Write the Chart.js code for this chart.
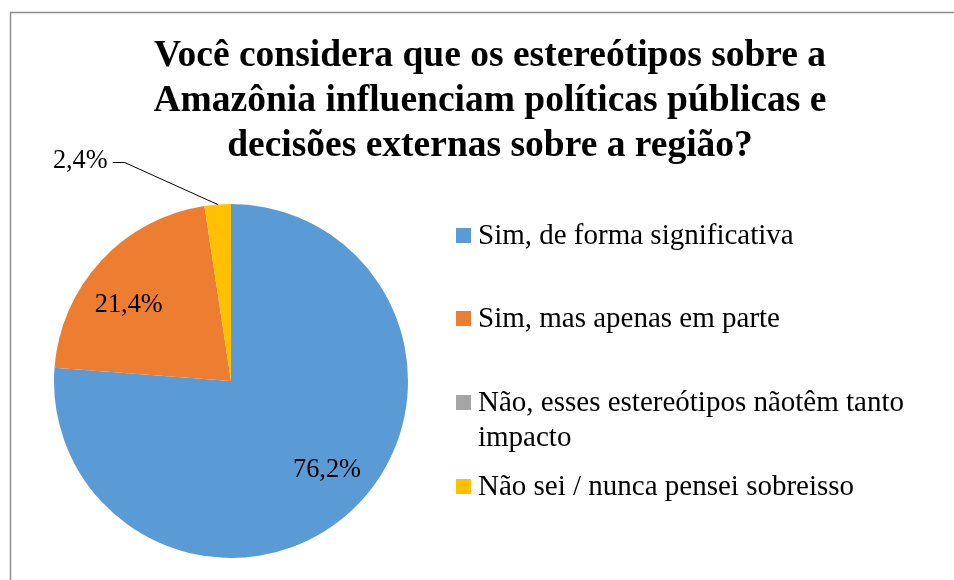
<!DOCTYPE html>
<html>
<head>
<meta charset="utf-8">
<script src="https://cdn.jsdelivr.net/npm/chart.js@4.4.1/dist/chart.umd.min.js"></script>
<style>
  html, body { margin: 0; padding: 0; background: #fff; }
  #wrap { width: 954px; height: 580px; position: relative; }
</style>
</head>
<body>
<div id="wrap"><canvas id="pieChart" width="954" height="580"></canvas></div>
<script>
// Dados do gráfico
const categories = [
    'Sim, de forma significativa',
    'Sim, mas apenas em parte',
    'Não, esses estereótipos nãotêm tanto impacto',
    'Não sei / nunca pensei sobreisso'
];
const percentages = [76.2, 21.4, 0, 2.4];
const sliceColors = ['#5B9BD5', '#ED7D31', '#A5A5A5', '#FFC000'];
const titleLines = [
    'Você considera que os estereótipos sobre a',
    'Amazônia influenciam políticas públicas e',
    'decisões externas sobre a região?'
];
// quebra de linha da legenda como no original
const legendLines = [
    ['Sim, de forma significativa'],
    ['Sim, mas apenas em parte'],
    ['Não, esses estereótipos nãotêm tanto', 'impacto'],
    ['Não sei / nunca pensei sobreisso']
];

const serif = '"Liberation Serif", "Times New Roman", serif';

function fmt(v) {
    return v.toFixed(1).replace('.', ',') + '%';
}

// moldura, título, rótulos e legenda
const decorPlugin = {
    id: 'decor',
    beforeDraw(chart) {
        const ctx = chart.ctx;
        ctx.save();
        ctx.fillStyle = '#fff';
        ctx.fillRect(0, 0, chart.width, chart.height);
        ctx.strokeStyle = '#8c8c8c';
        ctx.lineWidth = 1.5;
        ctx.beginPath();
        ctx.moveTo(10.5, chart.height);
        ctx.lineTo(10.5, 12.5);
        ctx.lineTo(chart.width, 12.5);
        ctx.stroke();
        ctx.restore();
    },
    afterDraw(chart) {
        const ctx = chart.ctx;
        ctx.save();

        // título
        ctx.fillStyle = '#000';
        ctx.font = 'bold 37.5px ' + serif;
        ctx.textAlign = 'center';
        ctx.textBaseline = 'middle';
        titleLines.forEach((t, i) => ctx.fillText(t, 490, 56 + i * 45));

        // rótulos dos valores
        const meta = chart.getDatasetMeta(0);
        ctx.font = '26.3px ' + serif;
        meta.data.forEach((arc, i) => {
            const v = percentages[i];
            if (!v) return;
            const mid = (arc.startAngle + arc.endAngle) / 2;
            if (v < 5) {
                // rótulo externo com linha de chamada
                const ex = arc.x + Math.cos(mid) * arc.outerRadius;
                const ey = arc.y + Math.sin(mid) * arc.outerRadius;
                const kx = ex - 93, ky = ey - 42;
                ctx.strokeStyle = '#000';
                ctx.lineWidth = 1;
                ctx.beginPath();
                ctx.moveTo(ex, ey);
                ctx.lineTo(kx, ky);
                ctx.lineTo(kx - 12, ky);
                ctx.stroke();
                ctx.textAlign = 'right';
                ctx.fillText(fmt(v), kx - 17, ky - 1);
            } else {
                const r = arc.outerRadius * 0.73;
                const a = mid - 0.09;
                ctx.textAlign = 'center';
                ctx.fillText(fmt(v), arc.x + Math.cos(a) * r, arc.y + Math.sin(a) * r + 3);
            }
        });

        // legenda
        const rowY = [236, 319, 403, 487];
        ctx.font = '29px ' + serif;
        ctx.textAlign = 'left';
        legendLines.forEach((lines, i) => {
            ctx.fillStyle = sliceColors[i];
            ctx.fillRect(456, rowY[i] - 8, 15, 15);
            ctx.fillStyle = '#000';
            lines.forEach((ln, j) => ctx.fillText(ln, 478, rowY[i] + j * 35));
        });
        ctx.restore();
    }
};

new Chart(document.getElementById('pieChart'), {
    type: 'pie',
    data: {
        labels: categories,
        datasets: [{
            data: percentages,
            backgroundColor: sliceColors,
            borderWidth: 0
        }]
    },
    options: {
        responsive: false,
        animation: false,
        layout: { padding: { left: 54, right: 546, top: 204, bottom: 22 } },
        plugins: {
            legend: { display: false },
            title: { display: false },
            tooltip: { enabled: false }
        }
    },
    plugins: [decorPlugin]
});
</script>
</body>
</html>
